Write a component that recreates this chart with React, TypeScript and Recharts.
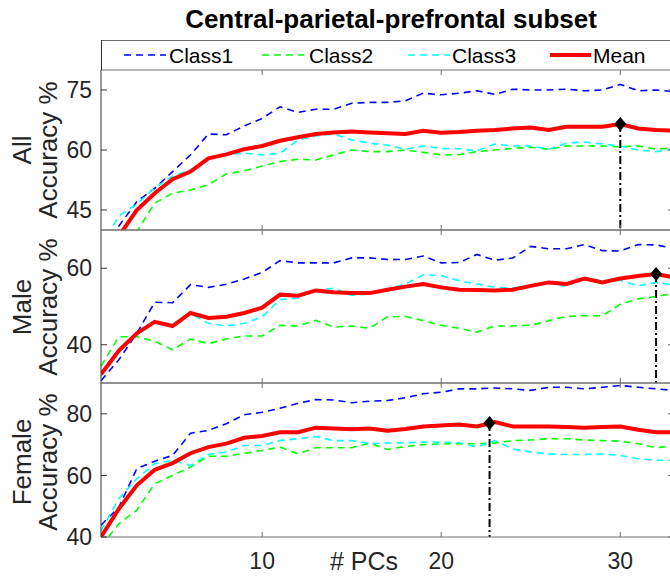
import {
  LineChart,
  Line,
  XAxis,
  YAxis,
  ReferenceLine,
  ReferenceDot,
} from 'recharts';

// number of principal components (shared x values)
const pcs = [1, 2, 3, 4, 5, 6, 7, 8, 9, 10, 11, 12, 13, 14, 15, 16, 17, 18, 19, 20, 21, 22, 23, 24, 25, 26, 27, 28, 29, 30, 31, 32, 33];
const pcTicks = [10, 20, 30];

// All subjects
const allClass1 = [33, 41, 47.1, 50.4, 54.6, 58.8, 64, 63.8, 66, 67.9, 70.8, 69.4, 70.2, 70.2, 71.7, 71.9, 71.9, 72.3, 74.2, 73.8, 74.2, 74.8, 73.9, 75.2, 75, 75, 75.2, 74.8, 75, 76.4, 74.8, 75, 74.6];
const allClass2 = [27, 33, 39.6, 46.7, 49.2, 50, 51.3, 54, 54.8, 56, 57.1, 57.7, 57.5, 58.8, 60, 59.6, 59.6, 60, 59.4, 58.8, 58.8, 59.6, 60, 60.4, 60.7, 60.2, 61, 61, 61, 60.8, 61, 60.2, 60.6];
const allClass3 = [36, 43.5, 46.5, 50.5, 53.5, 55, 57.9, 58.9, 59.2, 58.8, 59.2, 62.5, 63.5, 64, 62.5, 61.7, 61.2, 60.2, 61, 60.4, 60.3, 59.8, 61.5, 61, 61, 60.2, 61.7, 62, 61.5, 61, 60, 59.6, 60.3];
const allMean = [32, 38.5, 45, 49.2, 52.7, 54.6, 57.9, 58.9, 60.2, 61, 62.3, 63.2, 64, 64.4, 64.6, 64.4, 64.2, 64, 64.8, 64.3, 64.5, 64.8, 65, 65.4, 65.6, 65, 65.8, 65.8, 65.8, 66.5, 65.4, 65, 64.8];

// Male
const maleClass1 = [30.6, 36.1, 43, 51.1, 51, 55.7, 55, 55.8, 57.2, 58.9, 62, 61.4, 61.4, 61.4, 62.7, 62.7, 62.3, 62.3, 63.2, 61.4, 61.5, 63.6, 62.1, 62.7, 65.7, 65.1, 65.1, 66.2, 64.6, 64.5, 66.2, 66.1, 65.2];
const maleClass2 = [34.4, 42.1, 42.1, 40.9, 38.7, 41.5, 40.3, 41.5, 42.3, 42.3, 45.1, 44.9, 46.4, 44.6, 44.9, 44.3, 47.3, 47.4, 46.3, 45.1, 44.3, 43.3, 44.9, 44.9, 45.1, 46.3, 47.4, 47.6, 47.6, 50.6, 52, 52.6, 53.5];
const maleClass3 = [32, 38.3, 43, 46, 45.4, 48.2, 45.6, 44.9, 45.6, 47.3, 51.8, 52.2, 54.3, 54.8, 52.9, 53.3, 54.6, 55.9, 58.3, 58.1, 56.7, 55.9, 55, 54.8, 55.4, 56.5, 55.2, 57.4, 56.8, 56.8, 55.4, 56.3, 55.6];
const maleMean = [32.3, 38.5, 43, 46, 44.9, 48.3, 47, 47.3, 48.3, 49.7, 53.1, 52.8, 54.2, 53.7, 53.5, 53.5, 54.4, 55.2, 55.9, 55, 54.4, 54.3, 54.2, 54.4, 55.4, 56.3, 55.9, 57.3, 56.3, 57.3, 58, 58.5, 57.6];

// Female
const femaleClass1 = [43.8, 49.7, 62.2, 64.6, 66.5, 73.7, 74.6, 76.8, 79.7, 80.5, 81.8, 83.4, 84.6, 84.5, 83.6, 84.1, 84.3, 85.2, 86.5, 87, 88.1, 88.1, 88.4, 88.1, 87.6, 88.6, 88.6, 88.1, 88.6, 89.2, 88.6, 88.1, 87.6];
const femaleClass2 = [37, 44.3, 48.7, 57.3, 60, 62.7, 66.2, 66.2, 67.2, 68.1, 69.2, 67, 69, 69, 69, 70.5, 68.4, 69.4, 70, 70.2, 70.3, 70.3, 70.5, 71.3, 71.5, 71.9, 71.9, 71.5, 71.3, 71.1, 70.3, 69, 69.6];
const femaleClass3 = [42, 52.5, 58.9, 63.8, 64.9, 63.2, 66.8, 67.6, 69.7, 69.7, 71.3, 71.9, 72.6, 71.3, 71.3, 70.3, 70.5, 70.6, 70.8, 70.8, 70.6, 69.2, 71.3, 68.6, 67.6, 67, 66.8, 66.8, 67, 66.5, 65.4, 64.9, 64.9];
const femaleMean = [40, 49.2, 56.8, 61.8, 64, 67.2, 69.2, 70.3, 72.2, 72.8, 74, 74, 75.5, 75.2, 75, 75.2, 74.5, 75.1, 75.9, 76.2, 76.5, 75.9, 77.3, 75.9, 75.9, 75.9, 75.7, 75.5, 75.7, 75.9, 74.8, 74, 74];

// best mean accuracy per panel (All, Male, Female)
const peakPC = [30, 32, 22.7];
const peakAcc = [66.5, 58.5, 77];

const panelNames = ['All', 'Male', 'Female'];
const yDomains = [[40, 80], [30, 70], [40, 90]];
const yTicks = [[45, 60, 75], [40, 60], [40, 60, 80]];

const legendNames = ['Class1', 'Class2', 'Class3', 'Mean'];

const toRows = (c1: number[], c2: number[], c3: number[], mean: number[]) =>
  pcs.map((pc, i) => ({ pc, c1: c1[i], c2: c2[i], c3: c3[i], mean: mean[i] }));

const panelData = [
  toRows(allClass1, allClass2, allClass3, allMean),
  toRows(maleClass1, maleClass2, maleClass3, maleMean),
  toRows(femaleClass1, femaleClass2, femaleClass3, femaleMean),
];

const AXIS = '#6e6e6e';
const TXT = '#262626';
const FONT = '"Liberation Sans", Arial, Helvetica, sans-serif';
const DASH = '7 5';

const noTick = () => null;

const Diamond = (props: any) => {
  const { cx, cy } = props;
  return (
    <path
      d={`M${cx},${cy - 7} L${cx + 6},${cy} L${cx},${cy + 7} L${cx - 6},${cy} Z`}
      fill="#000"
    />
  );
};

// plot placement of each panel: [plot top, plot height]
const panelBoxes = [
  [70, 160],
  [230, 153],
  [383, 154],
];

function Panel({ idx }: { idx: number }) {
  const [plotTop, plotH] = panelBoxes[idx];
  const last = idx === 2;
  // axes with zero height are not drawn, so keep them at least 1px
  const bottomH = last ? 38 : 1;
  const height = 4 + plotH + bottomH + (last ? 0 : 3);
  const [y0, y1] = yDomains[idx];
  return (
    <div style={{ position: 'absolute', left: 0, top: plotTop - 4 }}>
      <LineChart
        width={720}
        height={height}
        data={panelData[idx]}
        margin={{ top: 3, right: 36, bottom: last ? 0 : 3, left: 0 }}
      >
        <XAxis
          dataKey="pc"
          type="number"
          domain={[1, 33]}
          ticks={pcTicks}
          allowDataOverflow
          height={bottomH}
          axisLine={{ stroke: AXIS }}
          tickLine={{ stroke: AXIS }}
          tickSize={-5}
          tickMargin={21}
          tick={last ? { fontSize: 23, fill: TXT } : noTick}
        />
        <XAxis
          xAxisId="top"
          orientation="top"
          dataKey="pc"
          type="number"
          domain={[1, 33]}
          ticks={pcTicks}
          allowDataOverflow
          height={1}
          axisLine={{ stroke: AXIS }}
          tickLine={{ stroke: AXIS }}
          tickSize={-5}
          tick={noTick}
        />
        <YAxis
          type="number"
          domain={[y0, y1]}
          ticks={yTicks[idx]}
          allowDataOverflow
          width={101}
          axisLine={{ stroke: '#333' }}
          tickLine={{ stroke: '#333' }}
          tickSize={-6}
          tickMargin={15}
          tick={{ fontSize: 23, fill: TXT }}
        />
        <YAxis
          yAxisId="r"
          orientation="right"
          type="number"
          domain={[y0, y1]}
          ticks={yTicks[idx]}
          allowDataOverflow
          width={10}
          axisLine={{ stroke: AXIS }}
          tickLine={{ stroke: AXIS }}
          tickSize={-6}
          tick={noTick}
        />
        <Line type="linear" dataKey="c1" stroke="#0000ff" strokeWidth={1.6} strokeDasharray={DASH} dot={false} isAnimationActive={false} />
        <Line type="linear" dataKey="c2" stroke="#00ff00" strokeWidth={1.6} strokeDasharray={DASH} dot={false} isAnimationActive={false} />
        <Line type="linear" dataKey="c3" stroke="#00ffff" strokeWidth={1.6} strokeDasharray={DASH} dot={false} isAnimationActive={false} />
        <Line type="linear" dataKey="mean" stroke="#ff0000" strokeWidth={4} dot={false} isAnimationActive={false} />
        <ReferenceLine
          segment={[
            { x: peakPC[idx], y: peakAcc[idx] },
            { x: peakPC[idx], y: y0 },
          ]}
          stroke="#000"
          strokeWidth={2}
          strokeDasharray="8 3 2 3"
        />
        <ReferenceDot x={peakPC[idx]} y={peakAcc[idx]} shape={Diamond} />
      </LineChart>
    </div>
  );
}

const labelCenters = [150, 307, 462];
const legendItems = [
  { line: [124, 166], text: 169, color: '#0000ff', dashed: true },
  { line: [262, 304], text: 309, color: '#00ff00', dashed: true },
  { line: [408, 450], text: 452, color: '#00ffff', dashed: true },
  { line: [550, 591], text: 593, color: '#ff0000', dashed: false },
];

export default function App() {
  return (
    <div
      style={{
        position: 'fixed',
        left: 0,
        top: 0,
        width: 670,
        height: 576,
        overflow: 'hidden',
        background: '#fff',
        fontFamily: FONT,
      }}
    >
      <Panel idx={0} />
      <Panel idx={1} />
      <Panel idx={2} />
      <svg
        width={670}
        height={576}
        style={{ position: 'absolute', left: 0, top: 0, pointerEvents: 'none' }}
        fontFamily={FONT}
      >
        <text x={391} y={28} textAnchor="middle" fontSize={26} fontWeight="bold" fill="#000">
          Central-parietal-prefrontal subset
        </text>
        {/* legend box */}
        <line x1={101} y1={40.5} x2={670} y2={40.5} stroke={AXIS} />
        <line x1={101.5} y1={40} x2={101.5} y2={70} stroke="#333" />
        {legendItems.map((it, i) => (
          <g key={legendNames[i]}>
            <line
              x1={it.line[0]}
              x2={it.line[1]}
              y1={55}
              y2={55}
              stroke={it.color}
              strokeWidth={it.dashed ? 1.6 : 4}
              strokeDasharray={it.dashed ? '7 5' : undefined}
            />
            <text x={it.text} y={63} fontSize={21} fill="#000">
              {legendNames[i]}
            </text>
          </g>
        ))}
        {panelNames.map((name, i) => (
          <g key={name}>
            <text
              x={22}
              y={labelCenters[i]}
              fontSize={26}
              fill={TXT}
              textAnchor="middle"
              dominantBaseline="central"
              transform={`rotate(-90 22 ${labelCenters[i]})`}
            >
              {name}
            </text>
            <text
              x={48}
              y={labelCenters[i]}
              fontSize={26}
              fill={TXT}
              textAnchor="middle"
              dominantBaseline="central"
              transform={`rotate(-90 48 ${labelCenters[i]})`}
            >
              Accuracy %
            </text>
          </g>
        ))}
        <text x={364} y={570} textAnchor="middle" fontSize={25} fill={TXT}>
          # PCs
        </text>
      </svg>
    </div>
  );
}
